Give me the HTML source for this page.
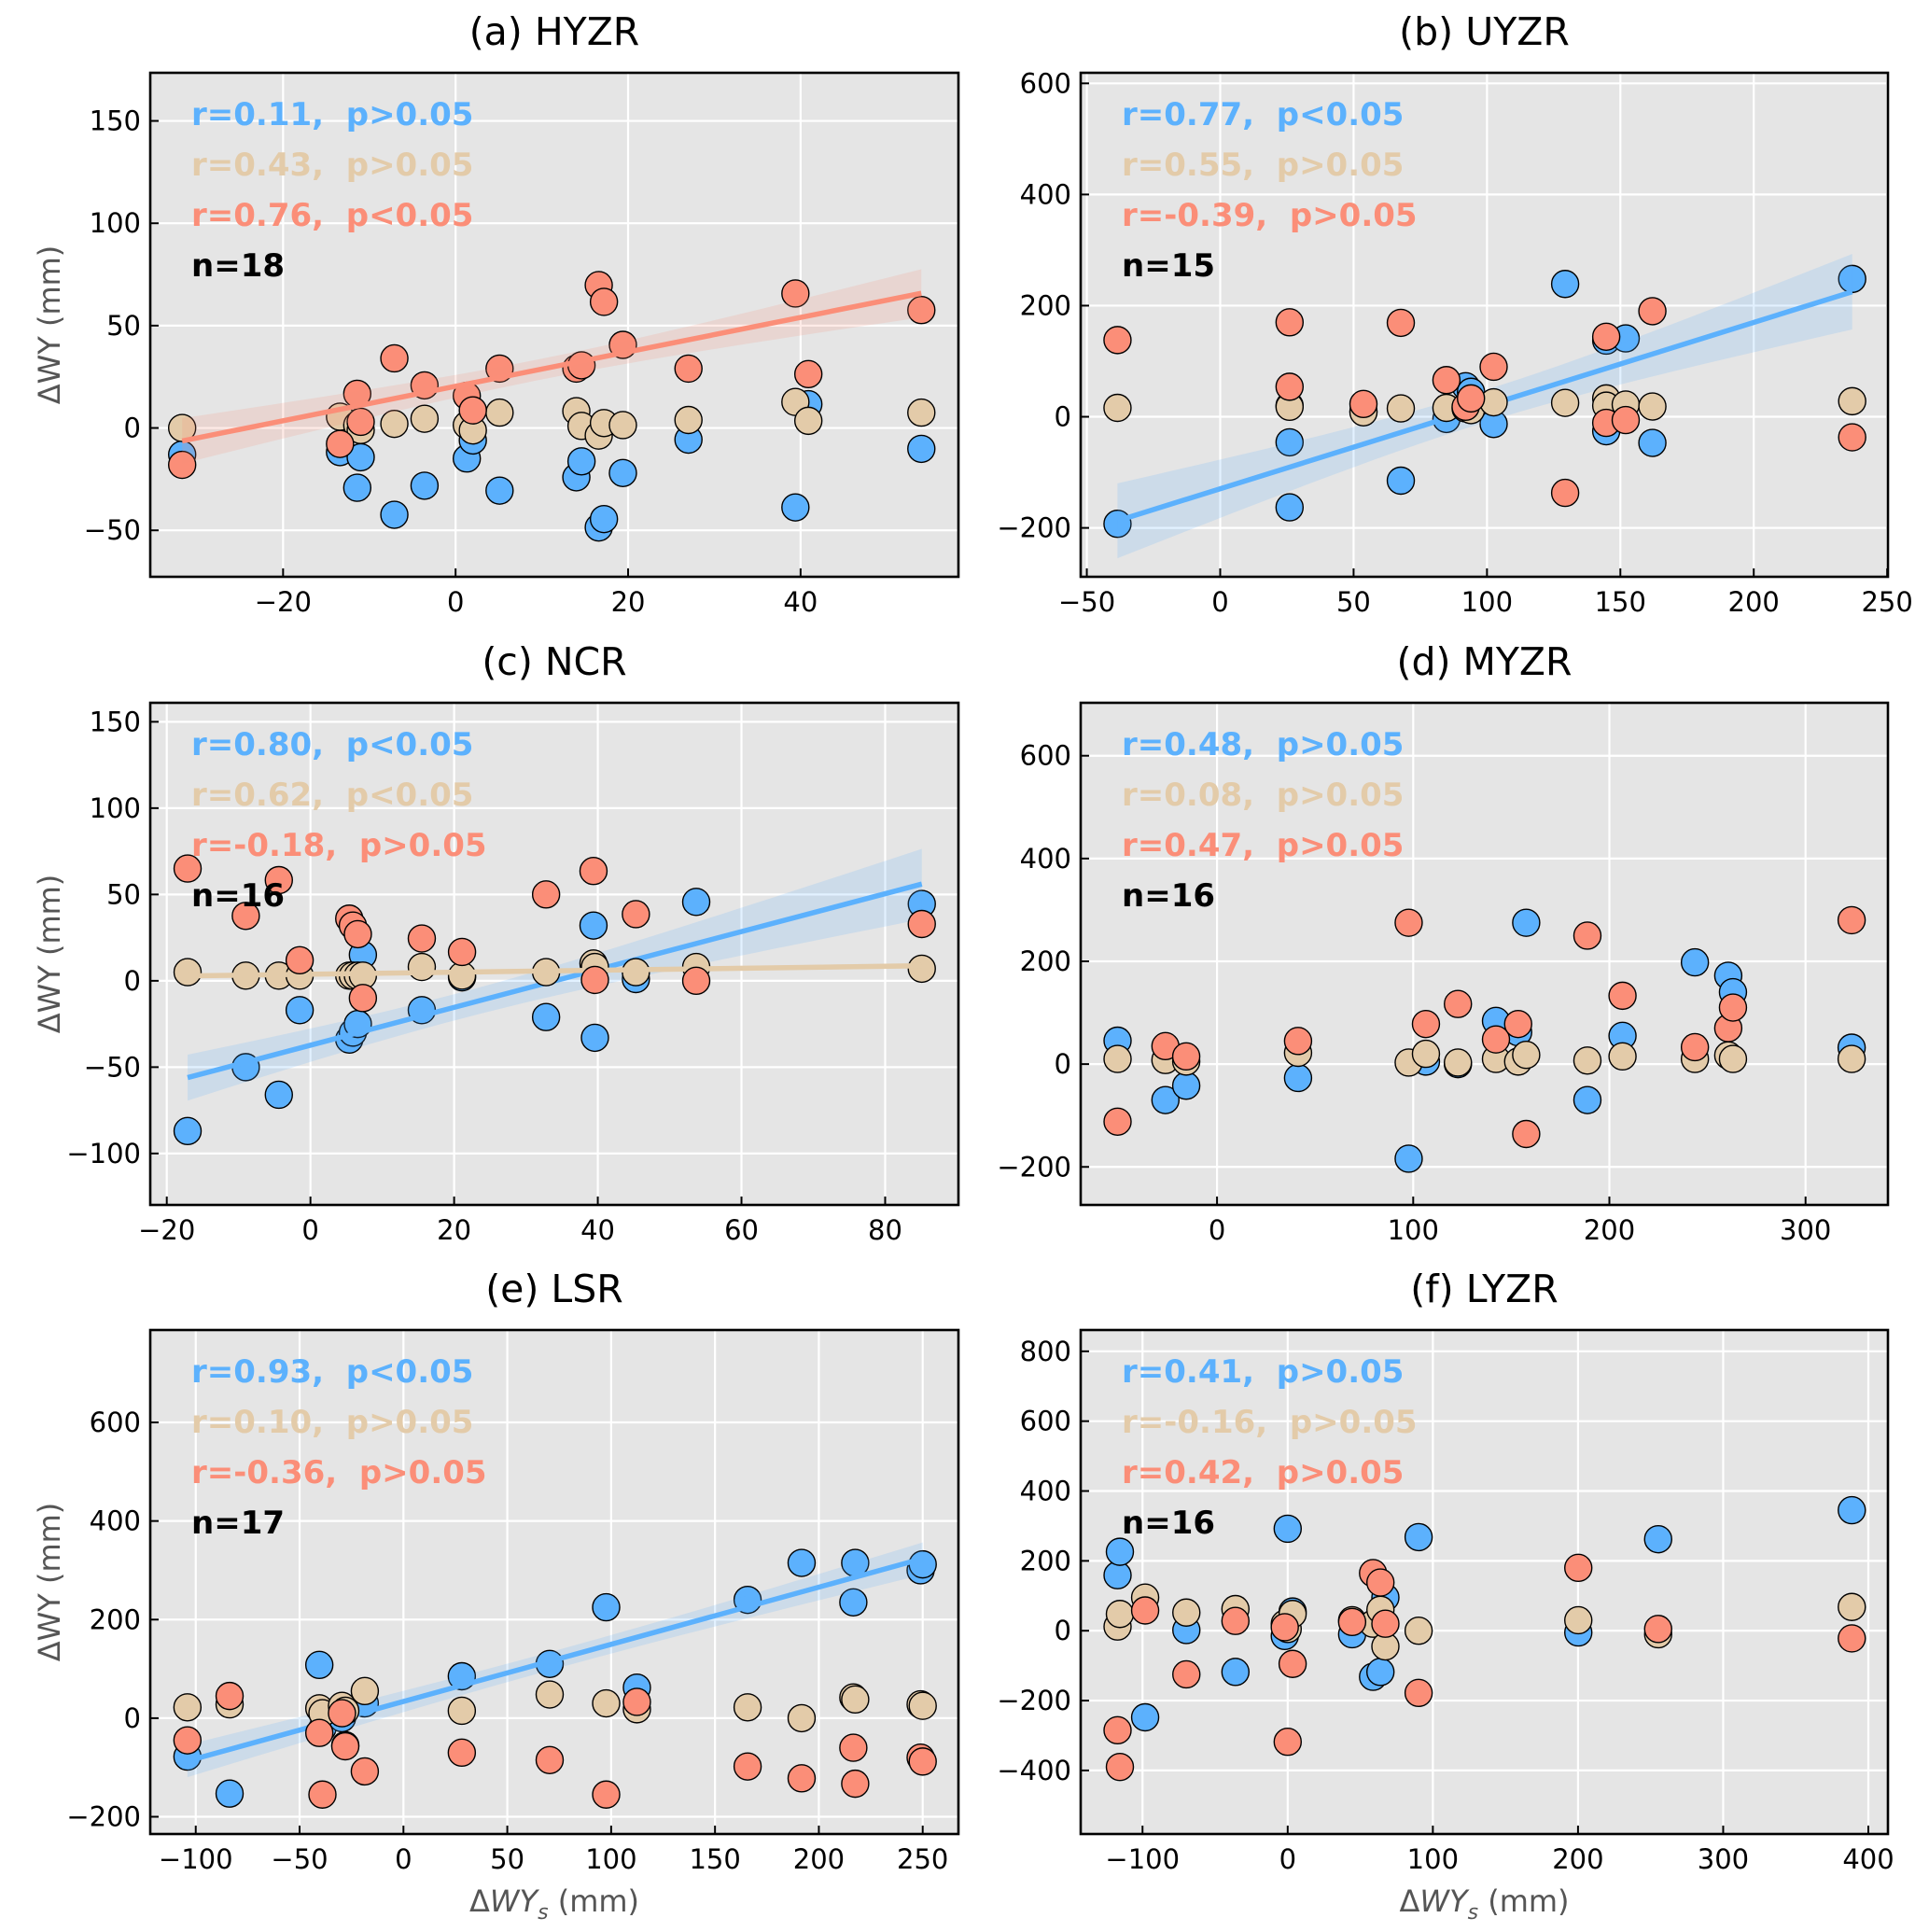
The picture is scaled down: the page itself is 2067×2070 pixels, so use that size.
<!DOCTYPE html>
<html><head><meta charset="utf-8"><title>ΔWY vs ΔWYs scatter panels</title>
<style>
html,body{margin:0;padding:0;background:#fff;}
svg{display:block;font-family:"DejaVu Sans","Liberation Sans",sans-serif;}
</style></head>
<body>
<svg id="chart" width="2067" height="2070" viewBox="0 0 2067 2070" xmlns="http://www.w3.org/2000/svg"></svg>
<script>
// ---- data (panel a: HYZR) ----
const aX    = [-31.7,-13.4,-11.4,-11,-7.1,-3.6,1.3,2,5.1,14,14.6,16.6,17.2,19.4,27,39.4,40.9,54];
const aBlue = [-13,-11.8,-29.2,-14.3,-42.4,-28.2,-14.9,-6.1,-30.6,-24.1,-16.3,-48.6,-44.5,-22,-5.7,-38.8,11.6,-10.2];
const aTan  = [0,5.5,1.4,-1,2,4.5,1.4,-1.2,7.5,8.2,1,-3.7,2.4,1.4,3.9,12.7,3.5,7.5];
const aRed  = [-18,-7.8,16.7,3,34,20.8,15.7,8.6,29,29,30.6,69.8,61.6,40.6,29,65.7,26.3,57.6];
// ---- panel b: UYZR ----
const bX    = [-38.5,26,26,53.7,67.7,84.8,92,94,102.5,129.3,144.7,144.7,152,162,236.9];
const bBlue = [-192.6,-46,-163,10,-115,-4,55,45,-13,239,-26,137,141,-47,248];
const bTan  = [16,20,18,8,15,16,15,12,26,25,33,20,22,18.5,28];
const bRed  = [138,170,54,23,169,66,18,33,90,-137,144,-11,-6,190,-37];
// ---- panel c: NCR ----
const cX    = [-17.1,-9,-4.4,-1.5,5.4,5.9,6.6,7.3,15.5,21.1,32.8,39.4,39.6,45.3,53.7,85.1];
const cBlue = [-87,-50,-66,-17,-34,-30,-25,15,-17,2,-21,32,-33,1,45.7,44.5];
const cTan  = [5,3,3,3,3,3,3,3,8,3,5,10,8,5,8,7];
const cRed  = [65,37.6,58.3,11.9,36,32,27,-10,24.5,16.7,50,63.6,0.5,38.6,0,32.9];
// ---- panel d: MYZR ----
const dX    = [-50.7,-26.3,-15.7,41.3,97.7,106.5,122.8,142.2,153.5,157.6,188.8,206.7,243.6,260.6,263,323.5];
const dBlue = [45.6,-70,-42,-27,-184,5,0,84,62,275,-70,55,198,172,140,32];
const dTan  = [10,8,5,22,3,20,3,10,5,18,7,15,10,17,10,10];
const dRed  = [-112,35,15,45,275,78,117,48,78,-136,250,133,33,70,110,280];
// ---- panel e: LSR ----
const eX    = [-104,-83.7,-40.5,-39,-29.6,-28,-18.6,28.1,70.4,97.6,112.4,165.7,191.7,216.6,217.5,249,250];
const eBlue = [-78,-153,108,-20,0,-55,30,85,110,225,62,240,315,235,315,300,312];
const eTan  = [22,28,20,10,25,15,55,15,48,30,18,22,0,42,38,28,25];
const eRed  = [-45,45,-30,-155,10,-57,-108,-70,-85,-155,33,-98,-122,-60,-133,-80,-88];
// ---- panel f: LYZR ----
const fX    = [-117.2,-115.6,-98.2,-69.8,-36,-2,0,3.4,44.4,58.8,63.9,67.3,90.2,200.2,255.2,388.6];
const fBlue = [159,226,-248,2,-118,-15,292,55,-10,-132,-118,95,268,-5,262,345];
const fTan  = [12,48,95,52,62,20,5,48,30,20,60,-45,0,30,-10,68];
const fRed  = [-285,-390,58,-125,28,10,-318,-95,25,165,138,20,-178,180,5,-22];
// ---- stats text ----
const aStats = ["r=0.11,  p>0.05","r=0.43,  p>0.05","r=0.76,  p<0.05"];
const bStats = ["r=0.77,  p<0.05","r=0.55,  p>0.05","r=-0.39,  p>0.05"];
const cStats = ["r=0.80,  p<0.05","r=0.62,  p<0.05","r=-0.18,  p>0.05"];
const dStats = ["r=0.48,  p>0.05","r=0.08,  p>0.05","r=0.47,  p>0.05"];
const eStats = ["r=0.93,  p<0.05","r=0.10,  p>0.05","r=-0.36,  p>0.05"];
const fStats = ["r=0.41,  p>0.05","r=-0.16,  p>0.05","r=0.42,  p>0.05"];
const nLabels = ["n=18","n=15","n=16","n=16","n=17","n=16"];
const titles = ["(a) HYZR","(b) UYZR","(c) NCR","(d) MYZR","(e) LSR","(f) LYZR"];
const aXTicks=[-20,0,20,40], aYTicks=[-50,0,50,100,150];
const bXTicks=[-50,0,50,100,150,200,250], bYTicks=[-200,0,200,400,600];
const cXTicks=[-20,0,20,40,60,80], cYTicks=[-100,-50,0,50,100,150];
const dXTicks=[0,100,200,300], dYTicks=[-200,0,200,400,600];
const eXTicks=[-100,-50,0,50,100,150,200,250], eYTicks=[-200,0,200,400,600];
const fXTicks=[-100,0,100,200,300,400], fYTicks=[-400,-200,0,200,400,600,800];

const COLORS = ["#5cb1fd","#e3cba9","#fb8e78"];
const SERIES_NAMES = ["blue","tan","red"];
const panels = [
 {key:"a", box:[161,1027,78,618],  xlim:[-35.4,58.3], ylim:[-72.7,173.5], xt:aXTicks, yt:aYTicks, x:aX, s:[aBlue,aTan,aRed], st:aStats, fit:[false,false,true], yl:true, xl:false},
 {key:"b", box:[1158,2023,78,618], xlim:[-52.3,250.3], ylim:[-288,619], xt:bXTicks, yt:bYTicks, x:bX, s:[bBlue,bTan,bRed], st:bStats, fit:[true,false,false], yl:false, xl:false},
 {key:"c", box:[161,1027,753,1291], xlim:[-22.3,90.2], ylim:[-129.8,161], xt:cXTicks, yt:cYTicks, x:cX, s:[cBlue,cTan,cRed], st:cStats, fit:[true,true,false], yl:true, xl:false},
 {key:"d", box:[1158,2023,753,1291], xlim:[-69.5,342], ylim:[-274,703], xt:dXTicks, yt:dYTicks, x:dX, s:[dBlue,dTan,dRed], st:dStats, fit:[false,false,false], yl:false, xl:false},
 {key:"e", box:[161,1027,1425,1965], xlim:[-121.9,267.2], ylim:[-235,787.5], xt:eXTicks, yt:eYTicks, x:eX, s:[eBlue,eTan,eRed], st:eStats, fit:[true,false,false], yl:true, xl:true},
 {key:"f", box:[1158,2023,1425,1965], xlim:[-142.6,413.5], ylim:[-582,861], xt:fXTicks, yt:fYTicks, x:fX, s:[fBlue,fTan,fRed], st:fStats, fit:[false,false,false], yl:false, xl:true}
];

const NS="http://www.w3.org/2000/svg";
const svg=document.getElementById('chart');
function mk(tag, attrs, parent){
  const e=document.createElementNS(NS,tag);
  for(const k in attrs) e.setAttribute(k, attrs[k]);
  (parent||svg).appendChild(e);
  return e;
}
function fmt(v){ return v<0 ? "\u2212"+Math.abs(v) : String(v); }

function fitLine(xs, ys){
  const n=xs.length; let mx=0,my=0;
  for(let i=0;i<n;i++){mx+=xs[i];my+=ys[i];}
  mx/=n; my/=n;
  let sxx=0,sxy=0;
  for(let i=0;i<n;i++){sxx+=(xs[i]-mx)**2; sxy+=(xs[i]-mx)*(ys[i]-my);}
  const b=sxy/sxx, a=my-b*mx;
  let sse=0; for(let i=0;i<n;i++){sse+=(ys[i]-a-b*xs[i])**2;}
  const se=Math.sqrt(sse/(n-2));
  return {a,b,mx,sxx,se,n};
}

panels.forEach((p, pi)=>{
  const [L,R,T,B]=p.box;
  const sx=v=>L+(v-p.xlim[0])/(p.xlim[1]-p.xlim[0])*(R-L);
  const sy=v=>B-(v-p.ylim[0])/(p.ylim[1]-p.ylim[0])*(B-T);
  const g=mk('g',{});
  
  
  const clipId='clip-'+p.key;
  const cp=mk('clipPath',{id:clipId},g);
  mk('rect',{x:L,y:T,width:R-L,height:B-T},cp);

  const bg=mk('rect',{x:L,y:T,width:R-L,height:B-T,fill:'#e5e5e5'},g);
  
  

  p.xt.forEach(t=>{
    const l=mk('line',{x1:sx(t),x2:sx(t),y1:T,y2:B,stroke:'#fff','stroke-width':2.2},g);
    
    
  });
  p.yt.forEach(t=>{
    const l=mk('line',{x1:L,x2:R,y1:sy(t),y2:sy(t),stroke:'#fff','stroke-width':2.2},g);
    
    
  });

  const plotG=mk('g',{'clip-path':'url(#'+clipId+')'},g);
  p.s.forEach((ys, si)=>{
    ys.forEach((v,i)=>{
      const c=mk('circle',{cx:sx(p.x[i]),cy:sy(v),r:14.5,fill:COLORS[si],stroke:'#000','stroke-width':1.4},plotG);
      
      
    });
    if(p.fit[si]){
      const f=fitLine(p.x, ys);
      const x0=Math.min(...p.x), x1=Math.max(...p.x);
      const N=40, up=[], lo=[];
      for(let k=0;k<=N;k++){
        const xv=x0+(x1-x0)*k/N;
        const yh=f.a+f.b*xv;
        const h=1.3*f.se*Math.sqrt(1/f.n+(xv-f.mx)**2/f.sxx);
        up.push(sx(xv)+','+sy(yh+h));
        lo.unshift(sx(xv)+','+sy(yh-h));
      }
      const band=mk('polygon',{points:up.concat(lo).join(' '),fill:COLORS[si],'fill-opacity':0.18,stroke:'none'},plotG);
      
      
      const ln=mk('line',{x1:sx(x0),y1:sy(f.a+f.b*x0),x2:sx(x1),y2:sy(f.a+f.b*x1),stroke:COLORS[si],'stroke-width':5.5,'stroke-linecap':'butt'},plotG);
      
      
    }
  });

  p.st.forEach((txt,si)=>{
    const t=mk('text',{x:L+44,y:T+56+54*si,fill:COLORS[si],'font-size':34,'font-weight':'bold','xml:space':'preserve'},g);
    t.style.whiteSpace='pre';
    t.textContent=txt;
    
    
  });
  const nt=mk('text',{x:L+44,y:T+56+54*3,fill:'#000','font-size':34,'font-weight':'bold'},g);
  nt.textContent=nLabels[pi];
  
  

  const sp=mk('rect',{x:L,y:T,width:R-L,height:B-T,fill:'none',stroke:'#000','stroke-width':2.6},g);
  
  

  p.xt.forEach(t=>{
    mk('line',{x1:sx(t),x2:sx(t),y1:B,y2:B-9,stroke:'#000','stroke-width':2},g);
    const lb=mk('text',{x:sx(t),y:B+37,'text-anchor':'middle','font-size':29,fill:'#000'},g);
    lb.textContent=fmt(t);
    
    
  });
  p.yt.forEach(t=>{
    mk('line',{x1:L,x2:L+9,y1:sy(t),y2:sy(t),stroke:'#000','stroke-width':2},g);
    const lb=mk('text',{x:L-10,y:sy(t)+10,'text-anchor':'end','font-size':29,fill:'#000'},g);
    lb.textContent=fmt(t);
    
    
  });

  const tt=mk('text',{x:(L+R)/2,y:T-30,'text-anchor':'middle','font-size':41,fill:'#000'},g);
  tt.textContent=titles[pi];
  
  

  if(p.yl){
    const cy=(T+B)/2;
    const yl=mk('text',{x:53,y:cy,'text-anchor':'middle','dominant-baseline':'central','font-size':32,fill:'#555',transform:'rotate(-90 53 '+cy+')'},g);
    yl.textContent='\u0394WY (mm)';
    
    
  }
  if(p.xl){
    const xl=mk('text',{x:(L+R)/2,y:B+83,'text-anchor':'middle','font-size':32,fill:'#555'},g);
    
    
    const s1=mk('tspan',{},xl); s1.textContent='\u0394';
    const s2=mk('tspan',{'font-style':'italic'},xl); s2.textContent='WY';
    const s3=mk('tspan',{'font-style':'italic','font-size':22,dy:8},xl); s3.textContent='s';
    const s4=mk('tspan',{dy:-8},xl); s4.textContent=' (mm)';
  }
});
</script>
</body></html>
